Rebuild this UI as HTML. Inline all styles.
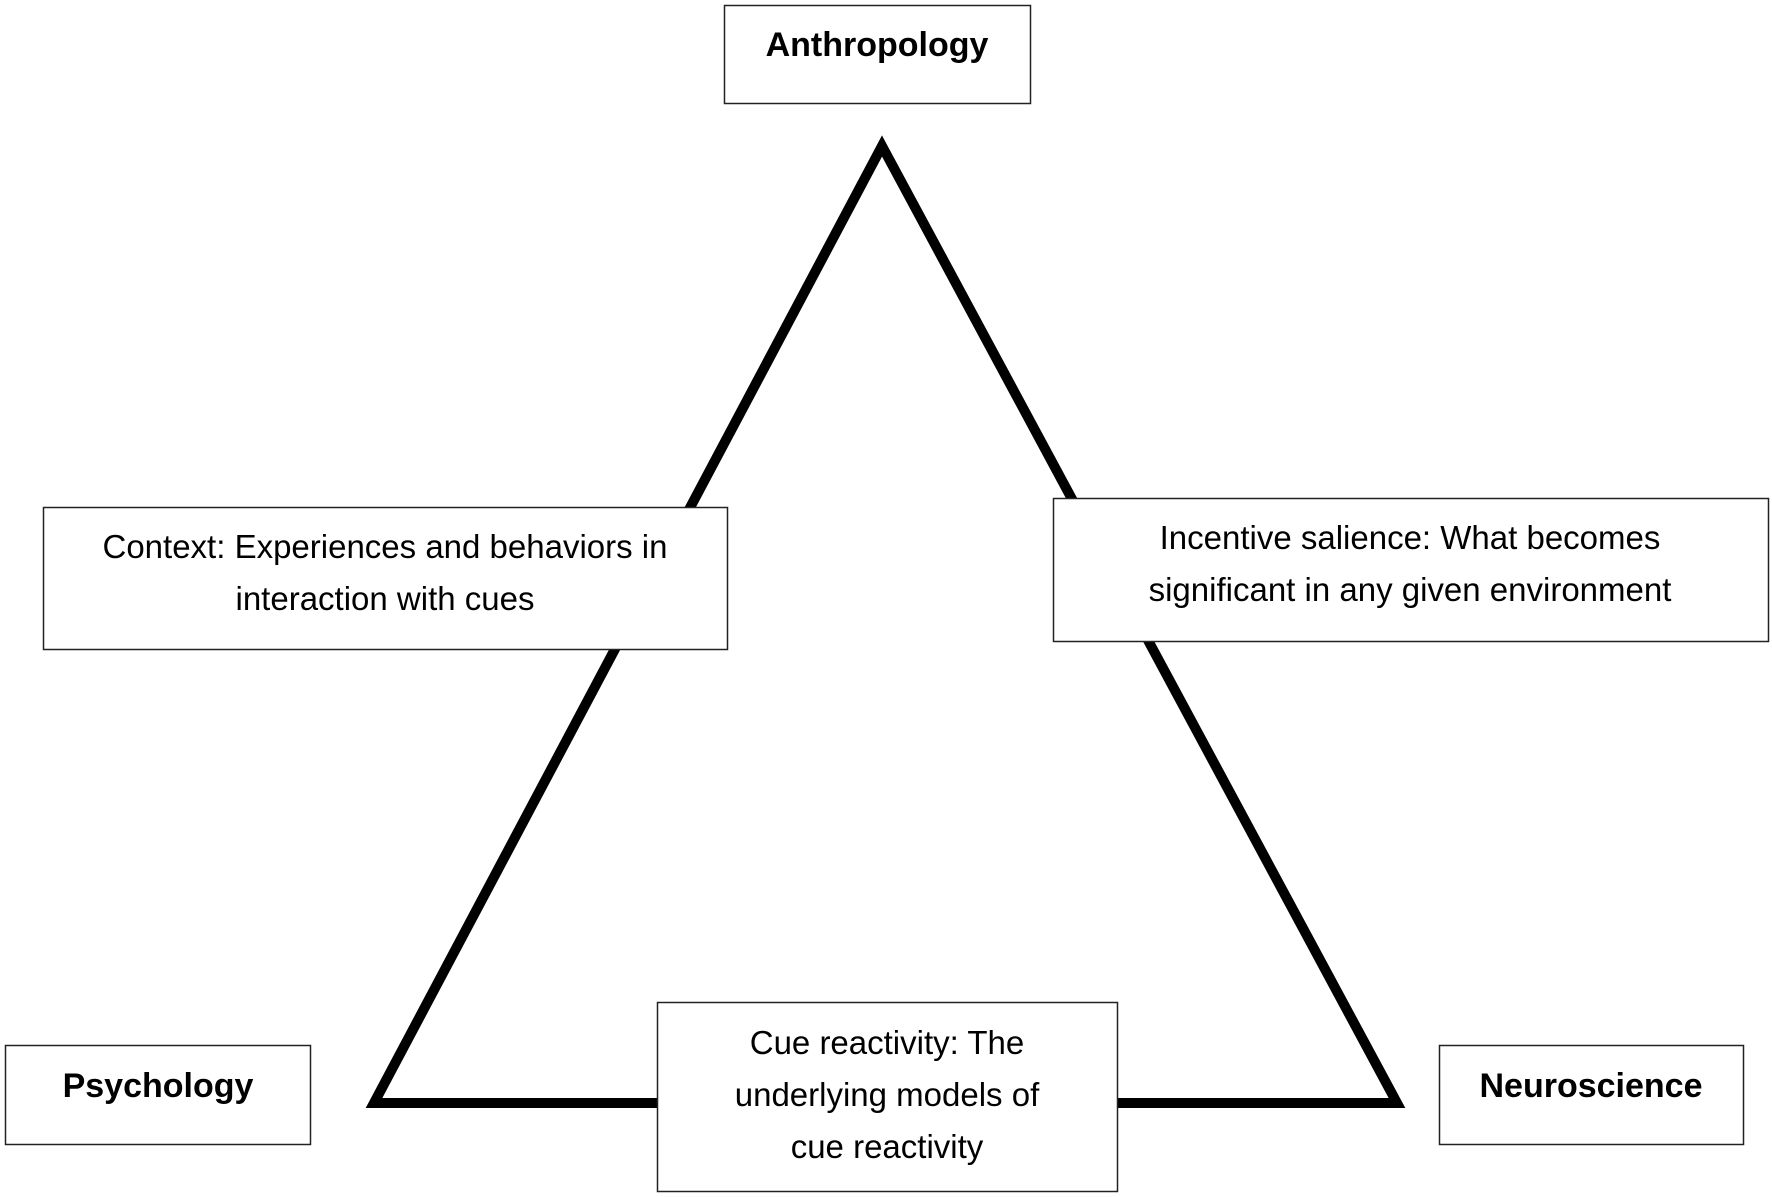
<!DOCTYPE html>
<html><head><meta charset="utf-8"><style>
html,body{margin:0;padding:0;background:#fff;}
svg{display:block}
text{font-family:"Liberation Sans",sans-serif;fill:#000;}
.b{font-weight:bold;font-size:34px;}
.n{font-size:33px;}
</style></head><body>
<svg width="1772" height="1197" viewBox="0 0 1772 1197">
<polygon points="882,146 374,1103 1397,1103" fill="none" stroke="#000" stroke-width="10" stroke-linejoin="miter"/>
<g fill="#fff" stroke="#222" stroke-width="1.5">
<rect x="724.5" y="5.5" width="306" height="98"/>
<rect x="43.5" y="507.5" width="684" height="142"/>
<rect x="1053.5" y="498.5" width="715" height="143"/>
<rect x="657.5" y="1002.5" width="460" height="189"/>
<rect x="5.5" y="1045.5" width="305" height="99"/>
<rect x="1439.5" y="1045.5" width="304" height="99"/>
</g>
<g text-anchor="middle">
<text class="b" x="877" y="56">Anthropology</text>
<text class="b" x="158" y="1097">Psychology</text>
<text class="b" x="1591" y="1097">Neuroscience</text>
<text class="n" x="385" y="558">Context: Experiences and behaviors in</text>
<text class="n" x="385" y="610">interaction with cues</text>
<text class="n" x="1410" y="549">Incentive salience: What becomes</text>
<text class="n" x="1410" y="601">significant in any given environment</text>
<text class="n" x="887" y="1054">Cue reactivity: The</text>
<text class="n" x="887" y="1106">underlying models of</text>
<text class="n" x="887" y="1158">cue reactivity</text>
</g>
</svg>
</body></html>
